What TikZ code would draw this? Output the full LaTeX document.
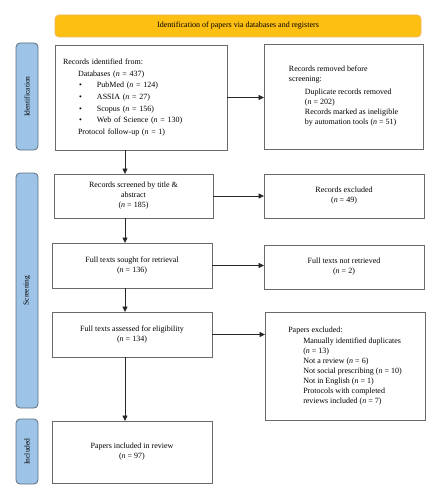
\documentclass[tikz,border=0pt]{standalone}
\usepackage{fontspec}
\setmainfont{Liberation Serif}
\usetikzlibrary{arrows.meta}
\definecolor{barY}{HTML}{FDBF12}
\definecolor{barYb}{HTML}{EDB75A}
\definecolor{sideB}{HTML}{9DC3E6}
\definecolor{sideBb}{HTML}{5E6E7C}
\definecolor{boxb}{HTML}{6A6A6A}
\newcommand{\nn}{\textit{n}}
\begin{document}
\begin{tikzpicture}[x=1pt,y=-1pt,
 box/.style={draw=boxb,line width=0.8pt,fill=white,inner sep=0pt,outer sep=0pt,font=\fontsize{8}{10}\selectfont},
 side/.style={draw=sideBb,fill=sideB,rounded corners=4pt,line width=0.8pt,minimum width=22pt,inner sep=0pt,outer sep=0pt,font=\fontsize{7.5}{9}\selectfont},
 arr/.style={line width=0.8pt,draw=black!85,-{Triangle[length=5.5pt,width=5pt]}}]

\useasboundingbox (0,0) rectangle (440,500);

% header bar
\node[draw=barYb,fill=barY,rounded corners=4pt,line width=0.8pt,minimum width=366pt,minimum height=22pt,inner sep=0pt,font=\fontsize{8}{10}\selectfont] (head) at (238,26) {Identification of papers via databases and registers};

% side labels
\node[side,minimum height=107pt] (sid) at (27,96.5) {\rotatebox{90}{Identification}};
\node[side,minimum height=235pt] (sscr) at (27,290.5) {\rotatebox{90}{Screening}};
\node[side,minimum height=65pt] (sinc) at (27,451.5) {\rotatebox{90}{Included}};

% identification
\node[box,minimum width=172pt,minimum height=105pt,text width=156pt,align=left,font=\fontsize{8}{11.6}\selectfont] (idb) at (141,97.5) {Records identified from:\\
\hspace*{15pt}Databases (\nn{} = 437)\\
\hspace*{16pt}\makebox[18pt][l]{•}PubMed (\nn{} = 124)\\
\hspace*{16pt}\makebox[18pt][l]{•}ASSIA (\nn{} = 27)\\
\hspace*{16pt}\makebox[18pt][l]{•}Scopus (\nn{} = 156)\\
\hspace*{16pt}\makebox[18pt][l]{•}Web of Science (\nn{} = 130)\\
\hspace*{15pt}Protocol follow-up (\nn{} = 1)};

\node[box,minimum width=159pt,minimum height=105pt,align=left] (rem) at (343.5,96.5) {Records removed before\\screening:\\[3pt]
\hspace*{16pt}Duplicate records removed\\
\hspace*{16pt}(\nn{} = 202)\\
\hspace*{16pt}Records marked as ineligible\\
\hspace*{16pt}by automation tools (\nn{} = 51)};

% screening
\node[box,minimum width=159pt,minimum height=44pt,align=center] (scr) at (133.5,196) {Records screened by title \&\\abstract\\(\nn{} = 185)};
\node[box,minimum width=160pt,minimum height=44pt,align=center] (exc) at (344,196) {Records excluded\\(\nn{} = 49)};

\node[box,minimum width=160pt,minimum height=45pt,align=center] (sought) at (132,265.5) {Full texts sought for retrieval\\(\nn{} = 136)};
\node[box,minimum width=160pt,minimum height=44pt,align=center] (notr) at (344,267) {Full texts not retrieved\\(\nn{} = 2)};

\node[box,minimum width=160pt,minimum height=45pt,align=center] (ass) at (132,334.5) {Full texts assessed for eligibility\\(\nn{} = 134)};
\node[box,minimum width=160pt,minimum height=108pt,align=left] (pex) at (345,366) {Papers excluded:\\[1pt]
\hspace*{15pt}Manually identified duplicates\\
\hspace*{15pt}(\nn{} = 13)\\
\hspace*{15pt}Not a review (\nn{} = 6)\\
\hspace*{15pt}Not social prescribing (\nn{} = 10)\\
\hspace*{15pt}Not in English (\nn{} = 1)\\
\hspace*{15pt}Protocols with completed\\
\hspace*{15pt}reviews included (\nn{} = 7)};

% included
\node[box,minimum width=160pt,minimum height=62pt,align=center] (inc) at (132,452) {Papers included in review\\(\nn{} = 97)};

\coordinate (xa) at (125,0);

% arrows
\draw[arr] (idb.south -| xa) -- (scr.north -| xa);
\draw[arr] (scr.south -| xa) -- (sought.north -| xa);
\draw[arr] (sought.south -| xa) -- (ass.north -| xa);
\draw[arr] (ass.south -| xa) -- (inc.north -| xa);
\draw[arr] (idb.east) -- (rem.west |- idb.east);
\draw[arr] (scr.east) -- (exc.west |- scr.east);
\draw[arr] (sought.east) -- (notr.west |- sought.east);
\draw[arr] (ass.east) -- (pex.west |- ass.east);
\end{tikzpicture}
\end{document}
